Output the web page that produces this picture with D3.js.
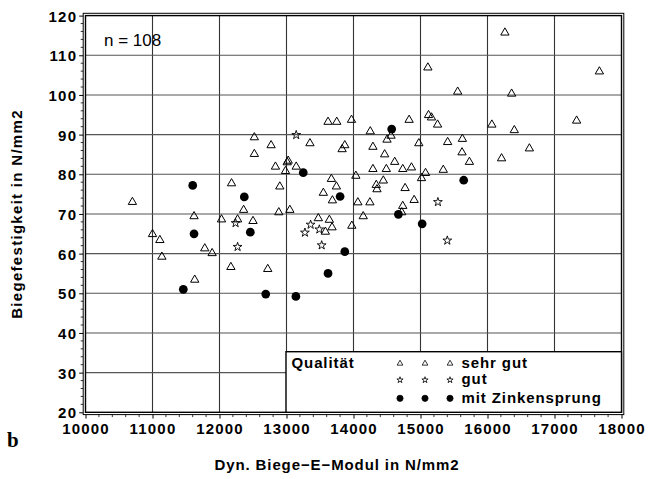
<!DOCTYPE html>
<html><head><meta charset="utf-8">
<script src="https://cdn.jsdelivr.net/npm/d3@7"></script>
<style>
html,body{margin:0;padding:0;background:#fff;}
svg text{font-family:"Liberation Sans",Arial,Helvetica,sans-serif;}
</style></head>
<body><svg id="c" width="648" height="479"></svg>
<script>
// ---- data ----
const xTicks = [10000,11000,12000,13000,14000,15000,16000,17000,18000];
const yTicks = [20,30,40,50,60,70,80,90,100,110,120];
const legendLabels = ["sehr gut","gut","mit Zinkensprung"];

const sehrGutX = [12520,12180,10700,12360,11620,12030,12270,12500,11000,11110,11780,11890,11140,12170,12720,11630,
  12520,12770,13350,13620,13750,13970,13870,13830,14250,14560,14500,14830,14975,14290,14465,13010,13025,12835,12985,13145,
  14615,14290,14490,14735,14865,14035,13670,12900,13745,14340,14350,14445,14770,13550,13685,14065,14245,14905,14735,14720,
  14145,12885,13050,13475,13640,13680,13580,13975,
  15555,16360,15120,15164,15255,16065,16400,17330,15405,15625,15620,15730,16210,16625,15075,15015,15340,
  15110,16260,17670];
const sehrGutY = [85.1,77.7,73.0,71.0,69.4,68.6,68.6,68.2,64.9,63.4,61.3,60.1,59.2,56.6,56.1,53.4,
  89.3,87.3,87.8,93.2,93.2,93.7,87.3,86.3,90.8,89.7,88.7,93.7,87.8,86.9,85.0,83.0,83.4,81.9,80.8,81.9,
  83.1,81.3,81.3,81.3,81.7,79.6,78.8,76.9,76.9,77.3,76.2,78.4,76.5,75.3,73.4,72.9,72.9,73.5,72.0,70.4,
  69.4,70.4,71.0,68.9,68.5,66.6,65.5,67.0,
  100.8,100.3,94.9,94.3,92.5,92.5,91.1,93.5,88.1,88.9,85.5,83.1,84.0,86.5,80.3,79.0,81.1,
  106.9,115.7,105.9];
const gutX = [12240,12270,13145,13360,13490,13275,13525,15260,15400];
const gutY = [67.7,61.7,89.9,67.3,66.1,65.3,62.1,73.0,63.3];
const zinkX = [11600,12370,11620,12460,11460,12690,14570,13250,13800,14670,15025,13870,13620,13140,15645];
const zinkY = [77.2,74.3,65.0,65.4,51.0,49.8,91.4,80.4,74.4,69.9,67.5,60.5,55.0,49.2,78.5];

// ---- chart ----
const svg = d3.select("#c");
const x = d3.scaleLinear().domain([10000,18000]).range([85.5,621.5]);
const y = d3.scaleLinear().domain([20,120]).range([412.3,15.6]);
const L = x.range()[0], R = x.range()[1], T = y.range()[1], B = y.range()[0];

// grid
const g = svg.append("g");
g.selectAll("line.vx").data(xTicks.slice(1,-1)).enter().append("line")
  .attr("x1",d=>x(d)).attr("x2",d=>x(d)).attr("y1",T).attr("y2",B)
  .attr("stroke","#333").attr("stroke-width",1.1);
g.selectAll("line.hy").data(yTicks.slice(1,-1)).enter().append("line")
  .attr("x1",L).attr("x2",R).attr("y1",d=>y(d)).attr("y2",d=>y(d))
  .attr("stroke","#555").attr("stroke-width",1.1);

// frame (double)
svg.append("rect").attr("x",L).attr("y",T).attr("width",R-L).attr("height",B-T)
  .attr("fill","none").attr("stroke","#000").attr("stroke-width",1.4);
const o = 2.3;
svg.append("rect").attr("x",L-o).attr("y",T-o).attr("width",R-L+2*o).attr("height",B-T+2*o)
  .attr("fill","none").attr("stroke","#000").attr("stroke-width",1);

// axes
const xAxis = d3.axisBottom(x).tickValues(xTicks).tickSize(4).tickFormat(d3.format("d"));
const xa = svg.append("g").attr("transform",`translate(0,${B+o})`).call(xAxis);
xa.select(".domain").remove();
const xMinor = d3.range(10000,18001,200).filter(v=>v%1000!==0);
svg.append("g").selectAll("line").data(xMinor).enter().append("line")
  .attr("x1",d=>x(d)).attr("x2",d=>x(d)).attr("y1",B+o).attr("y2",B+o+2.5)
  .attr("stroke","#000").attr("stroke-width",0.8);

const yAxis = d3.axisLeft(y).tickValues(yTicks).tickSize(4);
const ya = svg.append("g").attr("transform",`translate(${L-o},0)`).call(yAxis);
ya.select(".domain").remove();
const yMinor = d3.range(20,121,2).filter(v=>v%10!==0);
svg.append("g").selectAll("line").data(yMinor).enter().append("line")
  .attr("x1",L-o-2.5).attr("x2",L-o).attr("y1",d=>y(d)).attr("y2",d=>y(d))
  .attr("stroke","#000").attr("stroke-width",0.8);

[xa,ya].forEach(a=>{
  a.selectAll(".tick line").attr("stroke","#000").attr("stroke-width",1);
  a.selectAll(".tick text").attr("fill","#000")
   .style("font-family",'"Liberation Sans",Arial,sans-serif')
   .style("font-weight","bold").style("font-size","15px").style("letter-spacing","1.2px");
});
xa.selectAll(".tick text").attr("dy",null).attr("y",19);
ya.selectAll(".tick text").attr("x",-6).attr("dy","0.36em");

// legend box
const lg = svg.append("g");
lg.append("rect").attr("x",286).attr("y",351.7).attr("width",R-286).attr("height",B-351.7)
  .attr("fill","#fff").attr("stroke","#000").attr("stroke-width",1.4);
const lt = (t,xx,yy)=>lg.append("text").attr("x",xx).attr("y",yy).text(t)
  .style("font-weight","bold").style("font-size","15px").style("letter-spacing","0.9px");
lt("Qualität",291.5,368);
const rowY = [363.5,380,398.3];
const legSyms = [
  {type:d3.symbolTriangle,size:14,fill:"none"},
  {type:d3.symbolStar,size:12,fill:"none"},
  {type:d3.symbolCircle,size:30,fill:"#000"}];
legendLabels.forEach((lab,i)=>{
  [400,425,450].forEach(xx=>{
    lg.append("path").attr("d",d3.symbol().type(legSyms[i].type).size(legSyms[i].size)())
      .attr("transform",`translate(${xx},${rowY[i]})`)
      .attr("fill",legSyms[i].fill).attr("stroke","#000").attr("stroke-width",0.8);
  });
  lt(lab,461.5,[368,384,402.5][i]);
});

// points
const pts = svg.append("g");
const tri = d3.symbol().type(d3.symbolTriangle).size(30)();
const star = d3.symbol().type(d3.symbolStar).size(24)();
const circ = d3.symbol().type(d3.symbolCircle).size(60)();
pts.selectAll("path.t").data(d3.zip(sehrGutX,sehrGutY)).enter().append("path")
  .attr("d",tri).attr("transform",d=>`translate(${x(d[0])},${y(d[1])})`)
  .attr("fill","none").attr("stroke","#000").attr("stroke-width",1);
pts.selectAll("path.s").data(d3.zip(gutX,gutY)).enter().append("path")
  .attr("d",star).attr("transform",d=>`translate(${x(d[0])},${y(d[1])})`)
  .attr("fill","none").attr("stroke","#000").attr("stroke-width",0.9);
pts.selectAll("path.c").data(d3.zip(zinkX,zinkY)).enter().append("path")
  .attr("d",circ).attr("transform",d=>`translate(${x(d[0])},${y(d[1])})`)
  .attr("fill","#000").attr("stroke","none");

// annotations
svg.append("text").attr("x",104).attr("y",46).text("n = 108")
  .style("font-size","17px").attr("fill","#000");
svg.append("text").attr("x",337).attr("y",470).attr("text-anchor","middle")
  .text("Dyn. Biege\u2212E\u2212Modul in N/mm2")
  .style("font-weight","bold").style("font-size","15px").style("letter-spacing","0.9px");
svg.append("text").attr("transform","translate(21.5,214) rotate(-90)").attr("text-anchor","middle")
  .text("Biegefestigkeit in N/mm2")
  .style("font-weight","bold").style("font-size","15px").style("letter-spacing","1.3px");
svg.append("text").attr("x",7).attr("y",447).text("b")
  .style("font-family",'"Liberation Serif","Times New Roman",serif')
  .style("font-weight","bold").style("font-size","21px");
</script></body></html>
